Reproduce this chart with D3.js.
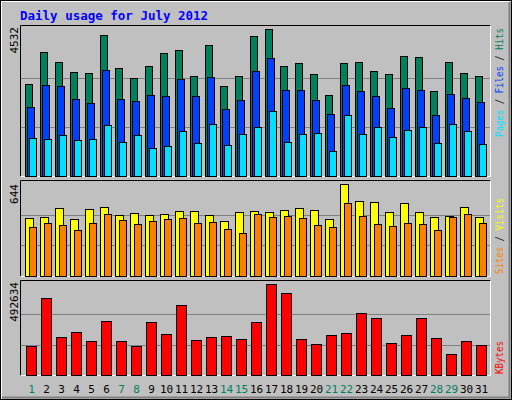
<!DOCTYPE html>
<html><head><meta charset="utf-8">
<script src="https://cdn.jsdelivr.net/npm/d3@7/dist/d3.min.js"></script>
<style>body{margin:0;background:#fff}svg{display:block}</style>
</head><body><svg id="c" width="512" height="400"></svg>
<script>
const days = d3.range(1, 32).map(String);
const weekend = ["1","7","8","14","15","21","22","28","29"];
const hits = [2843,3829,3521,3213,3182,4353,3336,3028,3397,3798,3891,3089,4045,2781,3089,4322,4532,3397,3490,3151,2503,3490,3521,3243,3151,3706,3675,2627,3521,3182,3089];
const files = [2133,2812,2781,2380,2257,3274,2380,2318,2503,2473,2997,2473,3058,2072,2349,3243,3644,2658,2658,2349,1918,2812,2627,2473,2103,2719,2658,1887,2534,2411,2288];
const pages = [1178,1147,1270,1116,1147,1578,1054,1270,869,931,1394,1023,1609,962,1301,1517,2010,1054,1301,1332,777,1887,1301,1517,1209,1424,1517,1023,1609,1394,993];
const sites = [406,413,476,399,469,483,427,441,427,434,455,455,427,385,448,455,448,462,476,462,399,644,525,518,448,511,448,413,420,483,413];
const visits = [343,371,357,322,371,434,392,364,385,399,406,371,378,329,301,434,413,420,406,357,343,511,420,364,350,371,364,322,413,434,371];
const kbytes = [157000,416800,205700,232800,184100,292300,184100,157000,286900,222000,378900,189500,205700,211100,194900,286900,492634,443900,194900,167800,216500,227400,335600,308600,173200,216500,308600,200300,113700,184100,162400];
const maxLabels = ["4532","644","492634"];

const svg = d3.select("#c");
const mono = "'DejaVu Sans Mono', monospace";
svg.append("rect").attr("width",512).attr("height",400).attr("fill","#c0c0c0");
svg.append("rect").attr("x",0.5).attr("y",0.5).attr("width",511).attr("height",399).attr("fill","none").attr("stroke","#000");
svg.append("path").attr("d","M1.5,398.5V1.5H510.5").attr("stroke","#fff").attr("fill","none");
svg.append("path").attr("d","M2,397.5H509.5V2").attr("stroke","#808080").attr("stroke-width",2).attr("fill","none");

svg.append("text").attr("x",20).attr("y",20).text("Daily usage for July 2012")
  .attr("font-family",mono).attr("font-weight","bold").attr("font-size",12.5).attr("fill","#0000ff");

const x = d3.scaleBand().domain(days).range([20,485]);

function panel(top, bottom, plotTop){
  svg.append("rect").attr("x",20.5).attr("y",top+0.5).attr("width",470).attr("height",bottom-top).attr("fill","#c0c0c0");
  svg.append("path").attr("d",`M20.5,${bottom+0.5}V${top+0.5}H490.5`).attr("stroke","#000").attr("fill","none");
  svg.append("path").attr("d",`M20.5,${bottom+0.5}H490.5V${top+0.5}`).attr("stroke","#fff").attr("fill","none");
  const h = bottom - plotTop;
  [1,2].forEach(k=>{
    const yy = Math.round(bottom - h*k/3)+0.5;
    svg.append("line").attr("x1",21).attr("x2",490).attr("y1",yy).attr("y2",yy).attr("stroke","#808080");
  });
}
function bars(data, y, off, w, color){
  svg.append("g").selectAll("rect").data(data).join("rect")
    .attr("x",(d,i)=>x(days[i])+off+0.5).attr("y",d=>Math.round(y(d))+0.5)
    .attr("width",w).attr("height",d=>y(0)-Math.round(y(d)))
    .attr("fill",color).attr("stroke","#000");
}
function maxLabel(txt, yTop){
  svg.append("text").attr("transform",`translate(18,${yTop}) rotate(-90)`).attr("text-anchor","end")
    .text(txt).attr("font-family",mono).attr("font-size",11).attr("fill","#000");
}
function sideLabel(parts, yStart, len){
  const t = svg.append("text").attr("transform",`translate(503,${yStart}) rotate(-90)`).attr("text-anchor","end")
    .attr("font-family",mono).attr("font-size",11).attr("textLength",len).attr("lengthAdjust","spacingAndGlyphs");
  parts.forEach(p=>t.append("tspan").text(p[0]).attr("fill",p[1]));
}

panel(25,176,29);
const y1 = d3.scaleLinear().domain([0,d3.max(hits)]).range([176,29]);
bars(hits,y1,5,7,"#00805c");
bars(files,y1,7,7,"#0040ff");
bars(pages,y1,9,7,"#00e0ff");
maxLabel(maxLabels[0],27);
sideLabel([["Pages","#00e0ff"],[" / ","#000"],["Files","#0040ff"],[" / ","#000"],["Hits","#00805c"]],28,109);

panel(180,276,184);
const y2 = d3.scaleLinear().domain([0,d3.max(sites)]).range([276,184]);
bars(sites,y2,5,8,"#ffff00");
bars(visits,y2,9,7,"#ff8000");
maxLabel(maxLabels[1],184);
sideLabel([["Sites","#ff8000"],[" / ","#000"],["Visits","#ffff00"]],198,76);

panel(280,375,284);
const y3 = d3.scaleLinear().domain([0,d3.max(kbytes)]).range([375,284]);
bars(kbytes,y3,6,10,"#ff0000");
maxLabel(maxLabels[2],282);
sideLabel([["KBytes","#ff0000"]],341,33);

svg.append("g").selectAll("text").data(days).join("text")
  .attr("x",d=>x(d)+x.bandwidth()/2+4).attr("y",393).attr("text-anchor","middle")
  .attr("font-family",mono).attr("font-size",11)
  .attr("fill",d=>weekend.includes(d)?"#00805c":"#000").text(d=>d);
</script></body></html>
